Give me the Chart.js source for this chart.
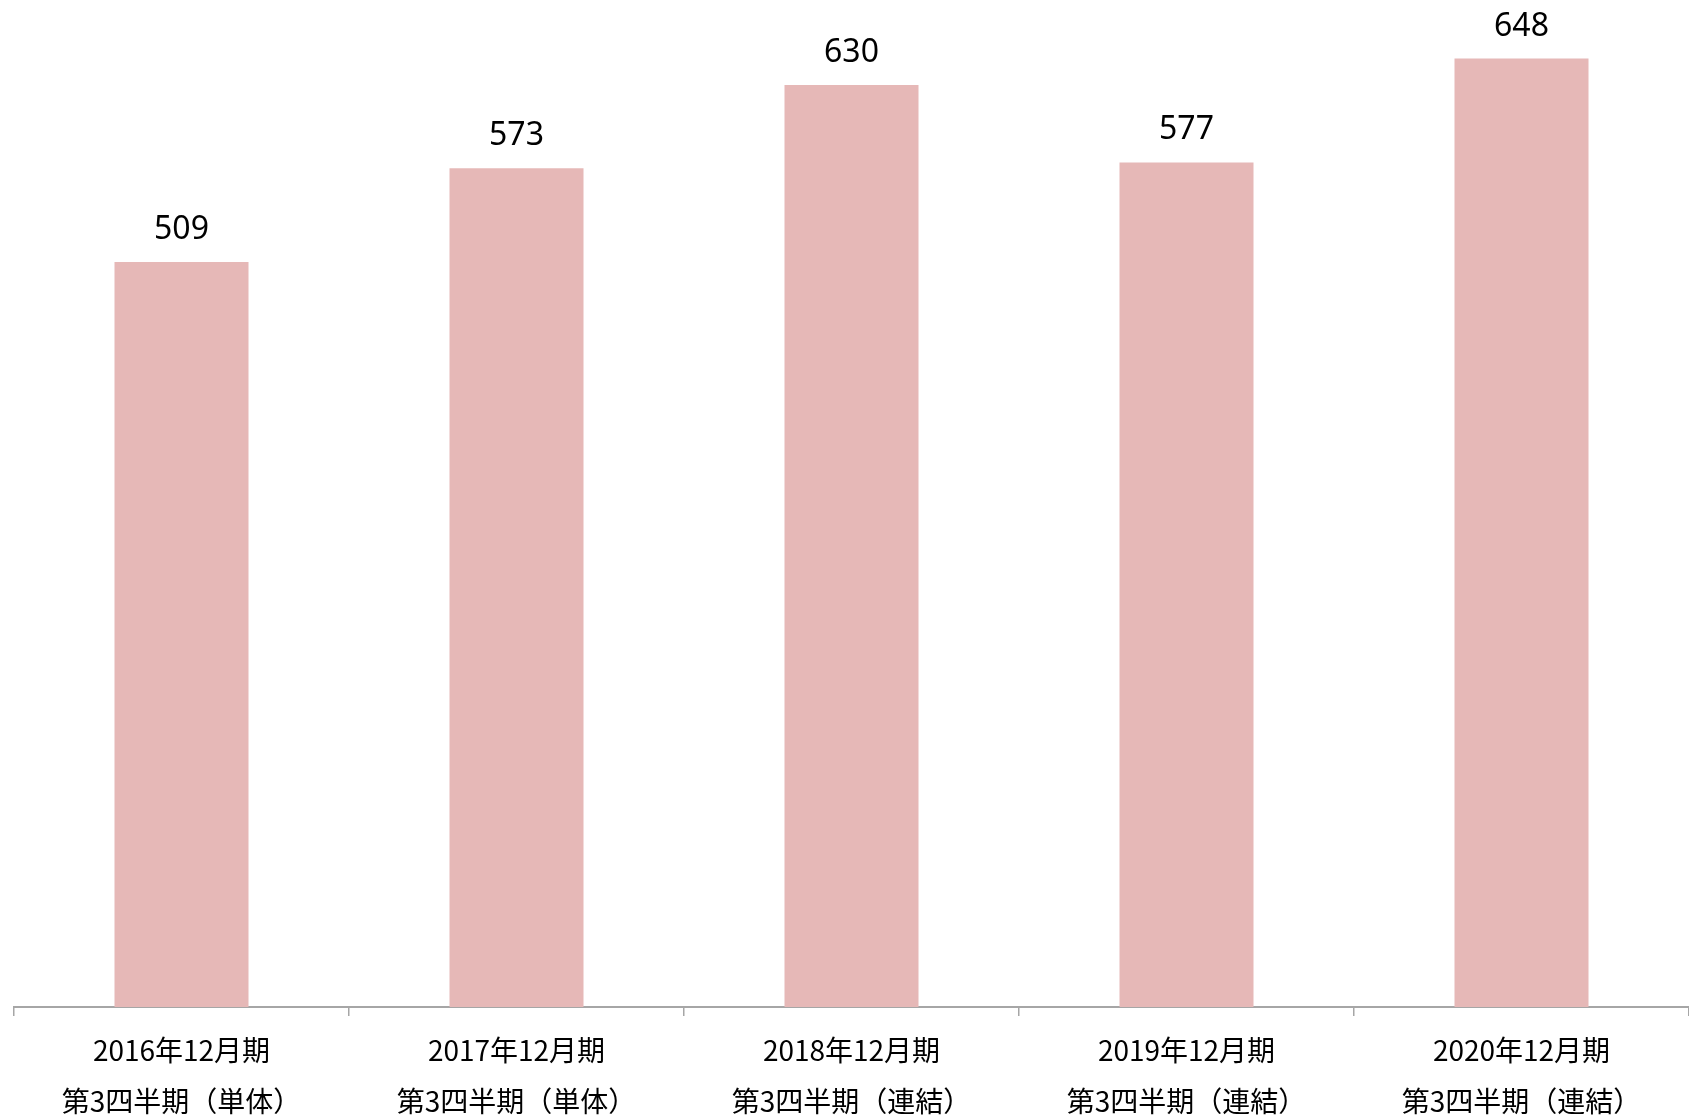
<!DOCTYPE html>
<html>
<head>
<meta charset="utf-8">
<script src="https://cdn.jsdelivr.net/npm/chart.js@4"></script>
<style>
  html, body { margin: 0; padding: 0; background: #fff; overflow: hidden; }
  #wrap { width: 1689px; height: 1116px; }
</style>
</head>
<body>
<div id="wrap"><canvas id="salesChart"></canvas></div>
<script>
const periods = ['2016年12月期', '2017年12月期', '2018年12月期', '2019年12月期', '2020年12月期'];
const quarters = ['第3四半期（単体）', '第3四半期（単体）', '第3四半期（連結）', '第3四半期（連結）', '第3四半期（連結）'];
const values = [509, 573, 630, 577, 648];

const labels = periods.map((p, i) => [p, quarters[i]]);

// numbers above each bar
const valueLabels = {
    id: 'valueLabels',
    afterDatasetsDraw(chart) {
        const ctx = chart.ctx;
        const meta = chart.getDatasetMeta(0);
        ctx.save();
        ctx.font = '32px "Noto Sans", sans-serif';
        ctx.fillStyle = '#000';
        ctx.textAlign = 'center';
        ctx.textBaseline = 'alphabetic';
        meta.data.forEach((bar, i) => {
            ctx.fillText(values[i], bar.x, bar.y - 23);
        });
        ctx.restore();
    }
};

const ctx = document.getElementById('salesChart');
const salesChart = new Chart(ctx, {
    type: 'bar',
    data: {
        labels: labels,
        datasets: [{
            data: values,
            backgroundColor: '#e6b8b7',
            barPercentage: 0.4,
            categoryPercentage: 1
        }]
    },
    options: {
        responsive: true,
        maintainAspectRatio: false,
        animation: false,
        layout: { padding: { left: 14, right: 0, top: 0, bottom: 0 } },
        plugins: {
            legend: { display: false },
            tooltip: { enabled: false }
        },
        scales: {
            x: {
                afterFit(scale) { scale.height = 109; },
                grid: {
                    display: true,
                    drawOnChartArea: false,
                    drawTicks: true,
                    tickLength: 9,
                    color: '#a6a6a6',
                    lineWidth: 1.5
                },
                border: { color: '#a6a6a6', width: 2 },
                ticks: {
                    color: '#000',
                    font: { family: '"Noto Sans CJK JP", sans-serif', size: 28, lineHeight: 51 / 28 },
                    padding: 9,
                    maxRotation: 0,
                    autoSkip: false
                }
            },
            y: {
                display: false,
                min: 0,
                max: 688
            }
        }
    },
    plugins: [valueLabels]
});
</script>
</body>
</html>
